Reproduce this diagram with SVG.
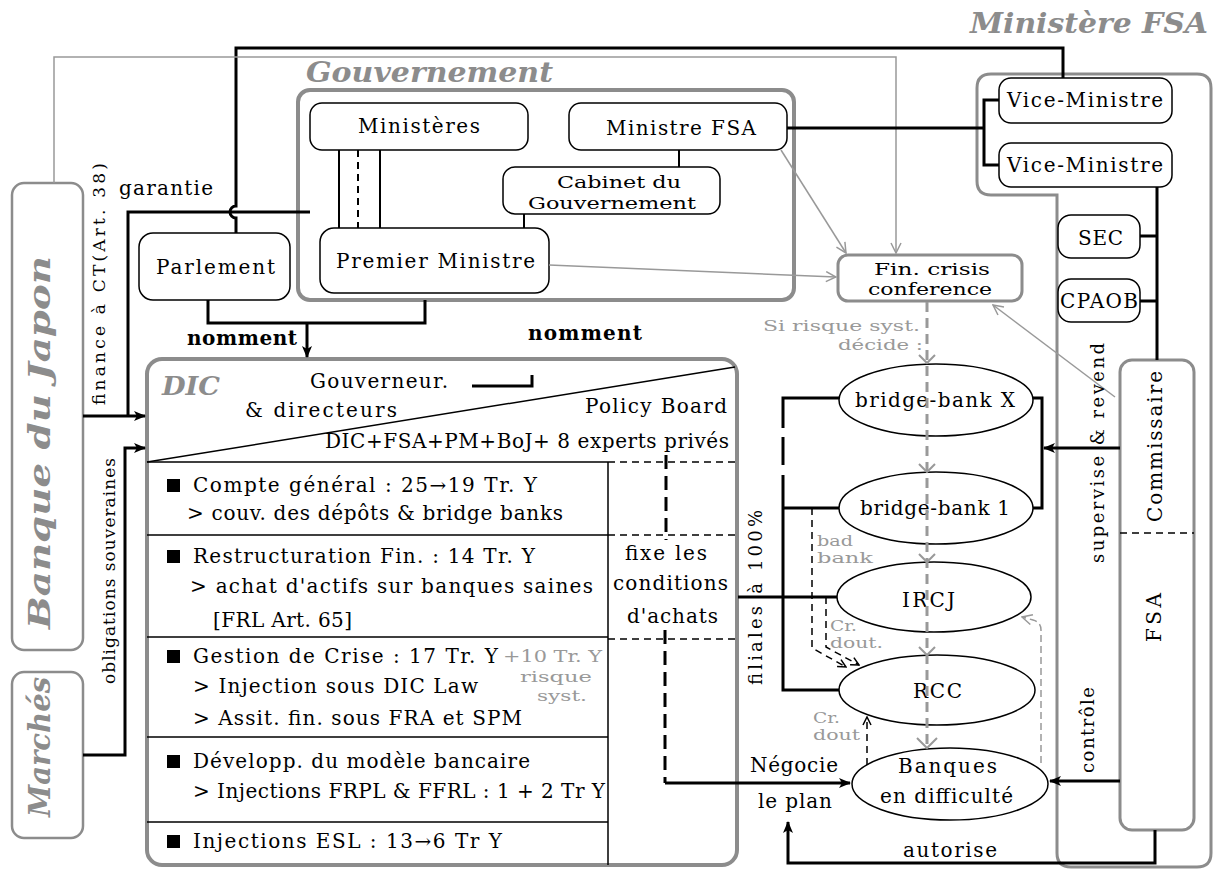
<svg xmlns="http://www.w3.org/2000/svg" width="1218" height="870" viewBox="0 0 1218 870">
<defs>
<style>
text{font-family:"DejaVu Serif","Liberation Serif",serif;font-size:20px;fill:#000}
.h{font-weight:bold;font-style:italic;fill:#8c8c8c;font-size:28px}
.b{font-weight:bold}
.g{fill:#999;font-size:15px}
.s14{font-size:14px}
.r{font-size:17px}
.box{fill:#fff;stroke:#000;stroke-width:1.5}
.gb{fill:none;stroke:#8c8c8c;stroke-width:4}
.gb3{fill:#fff;stroke:#8c8c8c;stroke-width:3}
.ln{fill:none;stroke:#000;stroke-width:3}
.th{fill:none;stroke:#000;stroke-width:1.5}
.th2{fill:none;stroke:#000;stroke-width:2}
.gl{fill:none;stroke:#999;stroke-width:1.5}
.gd{fill:none;stroke:#999;stroke-width:3;stroke-dasharray:10 6}
.gdt{fill:none;stroke:#999;stroke-width:1.5;stroke-dasharray:7 4}
.ds{fill:none;stroke:#000;stroke-width:1.5;stroke-dasharray:7 5}
.td{fill:none;stroke:#000;stroke-width:3;stroke-dasharray:14 7}
.chev{fill:none;stroke:#999;stroke-width:2}
</style>
<marker id="ab" markerUnits="userSpaceOnUse" markerWidth="12" markerHeight="12" viewBox="0 0 12 12" refX="11" refY="6" orient="auto"><path d="M0,1 L12,6 L0,11 L3,6 z" fill="#000"/></marker>
<marker id="ag" markerUnits="userSpaceOnUse" markerWidth="12" markerHeight="12" viewBox="0 0 12 12" refX="11" refY="6" orient="auto"><path d="M1,1 L11,6 L1,11" fill="none" stroke="#999" stroke-width="1.5"/></marker>
<marker id="as" markerUnits="userSpaceOnUse" markerWidth="10" markerHeight="10" viewBox="0 0 10 10" refX="9" refY="5" orient="auto"><path d="M1,1 L9,5 L1,9" fill="none" stroke="#000" stroke-width="1.5"/></marker>
</defs>
<rect width="1218" height="870" fill="#fff"/>

<g id="titre-ministere-fsa"><text class="h" x="970" y="33" textLength="238" lengthAdjust="spacingAndGlyphs">Ministère FSA</text></g>

<g id="ministere-fsa-cadre"><path class="gb" style="stroke-width:3" d="M991,74 H1197 Q1211,74 1211,88 V853 Q1211,867 1197,867 H1071 Q1057,867 1057,853 V195 H991 Q977,195 977,181 V88 Q977,74 991,74 Z"/></g>

<g id="gouvernement">
<rect class="gb" x="298" y="90" width="496" height="210" rx="12"/>
<text class="h" x="306" y="82" textLength="247" lengthAdjust="spacingAndGlyphs">Gouvernement</text>
</g>

<g id="ministeres"><rect class="box" x="310" y="103" width="218" height="47" rx="12"/><text x="358" y="133" textLength="122">Ministères</text></g>
<g id="ministre-fsa"><rect class="box" x="569" y="103" width="218" height="47" rx="12"/><text x="606" y="135" textLength="150">Ministre FSA</text></g>
<g id="cabinet"><rect class="box" x="503" y="167" width="217" height="47" rx="12"/><text style="font-size:17px" x="557" y="188" textLength="124" lengthAdjust="spacingAndGlyphs">Cabinet du</text><text style="font-size:17px" x="528" y="209" textLength="168" lengthAdjust="spacingAndGlyphs">Gouvernement</text></g>
<g id="premier-ministre"><rect class="box" x="320" y="228" width="229" height="65" rx="14"/><text x="336" y="268" textLength="199">Premier Ministre</text></g>
<g id="parlement"><rect class="box" x="139" y="233" width="151" height="67" rx="14"/><text x="156" y="274" textLength="119">Parlement</text></g>

<g id="banque-du-japon"><rect class="gb" style="stroke-width:2.5" x="12" y="183" width="71" height="467" rx="12"/><text class="h" style="font-size:30px" transform="translate(50,443) rotate(-90)" x="-186" y="0" textLength="373" lengthAdjust="spacingAndGlyphs">Banque du Japon</text></g>
<g id="marches"><rect class="gb" style="stroke-width:2.5" x="12" y="672" width="71" height="166" rx="12"/><text class="h" style="font-size:30px" transform="translate(50,747) rotate(-90)" x="-70" y="0" textLength="140" lengthAdjust="spacingAndGlyphs">Marchés</text></g>

<g id="vice-ministre-1"><rect class="box" x="999" y="78" width="173" height="45" rx="12"/><text x="1007" y="107" textLength="156">Vice-Ministre</text></g>
<g id="vice-ministre-2"><rect class="box" x="999" y="143" width="173" height="44" rx="12"/><text x="1007" y="172" textLength="156">Vice-Ministre</text></g>
<g id="sec"><rect class="box" x="1058" y="215" width="82" height="43" rx="13"/><text x="1078" y="245" textLength="45">SEC</text></g>
<g id="cpaob"><rect class="box" x="1058" y="279" width="82" height="43" rx="13"/><text x="1060" y="308" textLength="78">CPAOB</text></g>
<g id="commissaire"><rect class="gb3" x="1120" y="360" width="74" height="470" rx="12"/><path class="ds" d="M1120,533 H1194"/><text transform="translate(1162,447) rotate(-90)" x="-75" y="0" textLength="151">Commissaire</text><text transform="translate(1161,617) rotate(-90)" x="-25" y="0" textLength="49">FSA</text></g>
<g id="fin-crisis"><rect class="gb3" x="838" y="255" width="184" height="46" rx="10"/><text style="font-size:16px" x="874" y="275" textLength="116" lengthAdjust="spacingAndGlyphs">Fin. crisis</text><text style="font-size:16px" x="868" y="295" textLength="124" lengthAdjust="spacingAndGlyphs">conference</text></g>

<g id="dic">
<rect class="gb" x="147" y="359" width="590" height="506" rx="15"/>
<text class="h" style="font-size:26px" x="162" y="395" textLength="58" lengthAdjust="spacingAndGlyphs">DIC</text>
<text x="310" y="388" textLength="138">Gouverneur.</text>
<text x="245" y="417" textLength="152">&amp;  directeurs</text>
<text x="585" y="413" textLength="142">Policy Board</text>
<text x="325" y="448" textLength="404">DIC+FSA+PM+BoJ+ 8 experts privés</text>
<path class="th" d="M147,462 L735,367"/>
<path class="th" d="M147,462 H608 M147,535 H608 M147,637 H608 M147,737 H608 M147,822 H608 M608,462 V865"/>
<path class="ds" d="M608,462 H735 M608,535 H735 M608,639 H735"/>
<rect x="167" y="479" width="13" height="13"/>
<rect x="167" y="550" width="13" height="13"/>
<rect x="167" y="650" width="13" height="13"/>
<rect x="167" y="755" width="13" height="13"/>
<rect x="167" y="835" width="13" height="13"/>
<text x="193" y="492" textLength="344">Compte général : 25→19 Tr. Y</text>
<text x="187" y="520" textLength="376">&gt; couv. des dépôts &amp; bridge banks</text>
<text x="193" y="563" textLength="342">Restructuration Fin. : 14 Tr. Y</text>
<text x="190" y="593" textLength="403">&gt; achat d'actifs sur banques saines</text>
<text x="213" y="627" textLength="139">[FRL Art. 65]</text>
<text x="193" y="663" textLength="305">Gestion de Crise : 17 Tr. Y</text>
<text class="g" style="font-size:16px" x="503" y="662" textLength="99" lengthAdjust="spacingAndGlyphs">+10 Tr. Y</text>
<text class="g" x="520" y="682" textLength="72" lengthAdjust="spacingAndGlyphs">risque</text>
<text class="g" x="537" y="701" textLength="50" lengthAdjust="spacingAndGlyphs">syst.</text>
<text x="193" y="693" textLength="285">&gt; Injection sous DIC Law</text>
<text x="193" y="725" textLength="329">&gt; Assit. fin. sous FRA et SPM</text>
<text x="193" y="768" textLength="337">Développ. du modèle bancaire</text>
<text x="193" y="798" textLength="412">&gt; Injections FRPL &amp; FFRL : 1 + 2 Tr Y</text>
<text x="193" y="848" textLength="309">Injections ESL : 13→6 Tr Y</text>
<text x="625" y="560" textLength="82">fixe les</text>
<text x="613" y="590" textLength="115">conditions</text>
<text x="627" y="623" textLength="91">d'achats</text>
</g>

<g id="bridge-bank-x"><ellipse class="box" cx="936" cy="400" rx="97" ry="36"/><text x="855" y="407" textLength="160">bridge-bank X</text></g>
<g id="bridge-bank-1"><ellipse class="box" cx="936" cy="508" rx="97" ry="36"/><text x="860" y="515" textLength="150">bridge-bank 1</text></g>
<g id="ircj"><ellipse class="box" cx="934" cy="597" rx="97" ry="35"/><text x="902" y="607" textLength="53">IRCJ</text></g>
<g id="rcc"><ellipse class="box" cx="937" cy="690" rx="98" ry="35"/><text x="913" y="698" textLength="49">RCC</text></g>
<g id="banques"><ellipse class="box" cx="950" cy="784" rx="98" ry="36"/><text x="898" y="773" textLength="99">Banques</text><text x="880" y="803" textLength="133">en difficulté</text></g>

<g id="connectors">
<path class="ln" d="M236,233 V218 A6,6 0 0 1 236,206 V48 H1063 V78"/>
<path class="ln" d="M310,212 H128 V416"/>
<path class="ln" d="M83,416 H145" marker-end="url(#ab)"/>
<path class="ln" d="M83,755 H125 V448 H145" marker-end="url(#ab)"/>
<path class="gl" d="M54,183 V57 H896 V253" marker-end="url(#ag)"/>
<path class="gl" d="M549,265 L836,277" marker-end="url(#ag)"/>
<path class="gl" d="M781,150 L846,253" marker-end="url(#ag)"/>
<path class="gl" d="M1115,397 L993,305" marker-end="url(#ag)"/>
<path class="th2" d="M339,150 V228 M380,150 V228 M524,214 V228 M679,150 V167"/>
<path class="ds" style="stroke-width:2" d="M358,150 V228"/>
<path class="ln" d="M787,128 H984 M999,100 H984 V165 H999"/>
<path class="ln" d="M1157,187 V360 M1140,236 H1157 M1140,301 H1157"/>
<path class="ln" d="M208,300 V323 H425 V300"/>
<path class="ln" d="M307,323 V357" marker-end="url(#ab)"/>
<path class="ln" d="M472,386 H532 V375"/>
<path class="gd" d="M927,302 V746"/>
<path class="chev" d="M919,355 L927,363 L935,355 M919,464 L927,472 L935,464 M919,554 L927,562 L935,554 M919,647 L927,655 L935,647 M917,738 L927,748 L937,738"/>
<path class="ln" d="M839,398 H783 V428 M783,475 V690 H839 M783,508 H839 M738,597 H837"/>
<path class="ln" d="M783,437 V465"/>
<path class="ln" d="M1033,398 H1042 V508 H1033"/>
<path class="ln" d="M1120,448 H1044" marker-end="url(#ab)"/>
<path class="ds" d="M812,508 V648 L846,667" marker-end="url(#as)"/>
<path class="ds" d="M826,597 V647 L859,665" marker-end="url(#as)"/>
<path class="ds" d="M867,765 V717" marker-end="url(#as)"/>
<path class="gdt" d="M1041,763 V630 Q1041,622 1033,620 L1022,617" marker-end="url(#ag)"/>
<path class="ln" d="M1120,781 H1050" marker-end="url(#ab)"/>
<path class="ln" d="M1155,830 V863 H788 V822" marker-end="url(#ab)"/>
<path class="td" d="M665,630 V783"/>
<path class="ln" d="M665,783 H850" marker-end="url(#ab)"/>
<path class="td" d="M666,455 V540"/>
</g>

<g id="labels">
<text x="119" y="195" textLength="94">garantie</text>
<text class="b" x="187" y="345" textLength="110">nomment</text>
<text class="b" x="528" y="340" textLength="114">nomment</text>
<text class="r" transform="translate(105,284) rotate(-90)" x="-121" y="0" textLength="242">finance à CT(Art. 38)</text>
<text class="r" transform="translate(115,571) rotate(-90)" x="-113" y="0" textLength="226">obligations souveraines</text>
<text class="g" x="763" y="331" textLength="157" lengthAdjust="spacingAndGlyphs">Si risque syst.</text>
<text class="g" x="838" y="350" textLength="85" lengthAdjust="spacingAndGlyphs">décide :</text>
<text class="g s14" x="817" y="546" textLength="36" lengthAdjust="spacingAndGlyphs">bad</text>
<text class="g s14" x="817" y="563" textLength="56" lengthAdjust="spacingAndGlyphs">bank</text>
<text class="g s14" x="830" y="631" textLength="27" lengthAdjust="spacingAndGlyphs">Cr.</text>
<text class="g s14" x="830" y="648" textLength="53" lengthAdjust="spacingAndGlyphs">dout.</text>
<text class="g s14" x="813" y="723" textLength="27" lengthAdjust="spacingAndGlyphs">Cr.</text>
<text class="g s14" x="813" y="740" textLength="47" lengthAdjust="spacingAndGlyphs">dout</text>
<text style="font-size:18px" transform="translate(1104,453) rotate(-90)" x="-110" y="0" textLength="220">supervise &amp; revend</text>
<text style="font-size:18px" transform="translate(1094,730) rotate(-90)" x="-43" y="0" textLength="86">contrôle</text>
<text style="font-size:18px" transform="translate(762,597) rotate(-90)" x="-88" y="0" textLength="175">filiales à 100%</text>
<text x="750" y="772" textLength="88">Négocie</text>
<text x="758" y="808" textLength="74">le plan</text>
<text x="903" y="857" textLength="94">autorise</text>
</g>
</svg>
